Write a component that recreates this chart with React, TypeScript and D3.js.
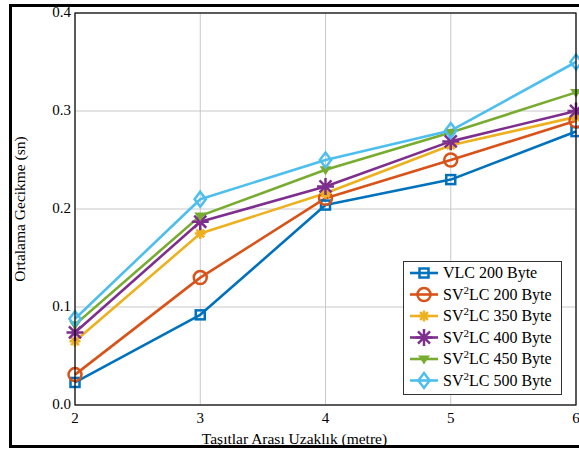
import React from "react";
import * as d3 from "d3";

const xValues = [2, 3, 4, 5, 6];
const seriesNames = ["VLC 200 Byte", "SV2LC 200 Byte", "SV2LC 350 Byte", "SV2LC 400 Byte", "SV2LC 450 Byte", "SV2LC 500 Byte"];
const vlc200 = [0.023, 0.092, 0.204, 0.23, 0.279];
const sv200 = [0.031, 0.13, 0.211, 0.25, 0.29];
const sv350 = [0.065, 0.175, 0.216, 0.265, 0.294];
const sv400 = [0.074, 0.187, 0.223, 0.269, 0.3];
const sv450 = [0.082, 0.193, 0.24, 0.278, 0.319];
const sv500 = [0.088, 0.21, 0.25, 0.28, 0.35];
const xTicks = [2, 3, 4, 5, 6];
const yTicks = [0, 0.1, 0.2, 0.3, 0.4];
const colors = ["#0072BD", "#D95319", "#EDB120", "#7E2F8E", "#77AC30", "#4DBEEE"];
const markers = ["square", "circle", "star", "bigstar", "tri", "diamond"];
const allSeries = [vlc200, sv200, sv350, sv400, sv450, sv500];

const FS = 15;
const LFS = 16;

function Marker({ type, x, y, color }: { type: string; x: number; y: number; color: string }) {
  const sw = 2.5;
  if (type === "square") {
    const s = 9;
    return <rect x={x - s / 2} y={y - s / 2} width={s} height={s} fill="none" stroke={color} strokeWidth={sw} />;
  }
  if (type === "circle") {
    return <circle cx={x} cy={y} r={6.5} fill="none" stroke={color} strokeWidth={sw} />;
  }
  if (type === "star" || type === "bigstar") {
    const r = type === "star" ? 5.5 : 8.5;
    const d = r * Math.SQRT1_2;
    const p = `M${x - r},${y}L${x + r},${y}M${x},${y - r}L${x},${y + r}M${x - d},${y - d}L${x + d},${y + d}M${x - d},${y + d}L${x + d},${y - d}`;
    return <path d={p} fill="none" stroke={color} strokeWidth={sw} />;
  }
  if (type === "tri") {
    const r = 4.5;
    const p = `M${x - r},${y - r * 0.6}L${x + r},${y - r * 0.6}L${x},${y + r * 0.9}Z`;
    return <path d={p} fill={color} stroke={color} strokeWidth={1.5} />;
  }
  const r = 7.5;
  const p = `M${x},${y - r}L${x + r * 0.75},${y}L${x},${y + r}L${x - r * 0.75},${y}Z`;
  return <path d={p} fill="none" stroke={color} strokeWidth={sw} />;
}

function Label({ name, x, y }: { name: string; x: number; y: number }) {
  if (name.startsWith("SV2LC")) {
    const rest = name.slice(5);
    return (
      <text x={x} y={y} fontSize={LFS} fill="#000">
        SV<tspan fontSize={11} dy={-6}>2</tspan>
        <tspan dy={6}>LC{rest}</tspan>
      </text>
    );
  }
  return (
    <text x={x} y={y} fontSize={LFS} fill="#000">
      {name}
    </text>
  );
}

export default function App() {
  const W = 579, H = 452;
  const left = 75, right = 576, top = 13, bottom = 405;
  const x = d3.scaleLinear().domain([2, 6]).range([left, right]);
  const y = d3.scaleLinear().domain([0, 0.4]).range([bottom, top]);
  const line = d3.line<number>().x((_, i) => x(xValues[i])).y((d) => y(d));

  const legX = 403, legY = 261, legW = 158, legH = 133;
  const rowH = 21.5;

  return (
    <svg
      width={W}
      height={H}
      fontFamily="Liberation Serif"
      style={{ position: "absolute", left: 0, top: 0, background: "#fff", fontFamily: '"Liberation Serif", "Times New Roman", Times' }}
    >
      <rect x={0} y={0} width={W} height={H} fill="#fff" />
      <rect x={10.5} y={5.5} width={620} height={441} fill="none" stroke="#000" strokeWidth={3} />
      {xTicks.map((t) => (
        <line key={"gx" + t} x1={x(t)} x2={x(t)} y1={top} y2={bottom} stroke="#c8c8c8" strokeWidth={1} />
      ))}
      {yTicks.map((t) => (
        <line key={"gy" + t} x1={left} x2={right} y1={y(t)} y2={y(t)} stroke="#c8c8c8" strokeWidth={1} />
      ))}
      {allSeries.map((s, i) => (
        <path key={"l" + i} d={line(s) || ""} fill="none" stroke={colors[i]} strokeWidth={2.6} strokeLinejoin="round" />
      ))}
      {allSeries.map((s, i) =>
        s.map((v, j) => <Marker key={`m${i}-${j}`} type={markers[i]} x={x(xValues[j])} y={y(v)} color={colors[i]} />)
      )}
      <rect x={left} y={top} width={right - left} height={bottom - top} fill="none" stroke="#000" strokeWidth={1.2} />
      {xTicks.map((t) => (
        <text key={"tx" + t} x={x(t)} y={bottom + 18} textAnchor="middle" fontSize={FS} fill="#000">
          {d3.format("d")(t)}
        </text>
      ))}
      {yTicks.map((t) => (
        <text key={"ty" + t} x={left - 4} y={y(t) + 4} textAnchor="end" fontSize={FS} fill="#000">
          {d3.format(".1f")(t)}
        </text>
      ))}
      <text x={(left + right) / 2 - 31} y={444} textAnchor="middle" fontSize={FS + 0.5} fill="#000">
        Taşıtlar Arası Uzaklık (metre)
      </text>
      <text transform={`translate(25,${(top + bottom) / 2}) rotate(-90)`} textAnchor="middle" fontSize={FS + 0.5} fill="#000">
        Ortalama Gecikme (sn)
      </text>
      <rect x={legX + 0.5} y={legY + 0.5} width={legW} height={legH} fill="#fff" stroke="#333" strokeWidth={1} />
      {seriesNames.map((n, i) => {
        const cy = legY + 12 + i * rowH;
        return (
          <g key={"lg" + i}>
            <line x1={legX + 7} x2={legX + 35} y1={cy} y2={cy} stroke={colors[i]} strokeWidth={2.6} />
            <Marker type={markers[i]} x={legX + 21} y={cy} color={colors[i]} />
            <Label name={n} x={legX + 40} y={cy + 5} />
          </g>
        );
      })}
    </svg>
  );
}
